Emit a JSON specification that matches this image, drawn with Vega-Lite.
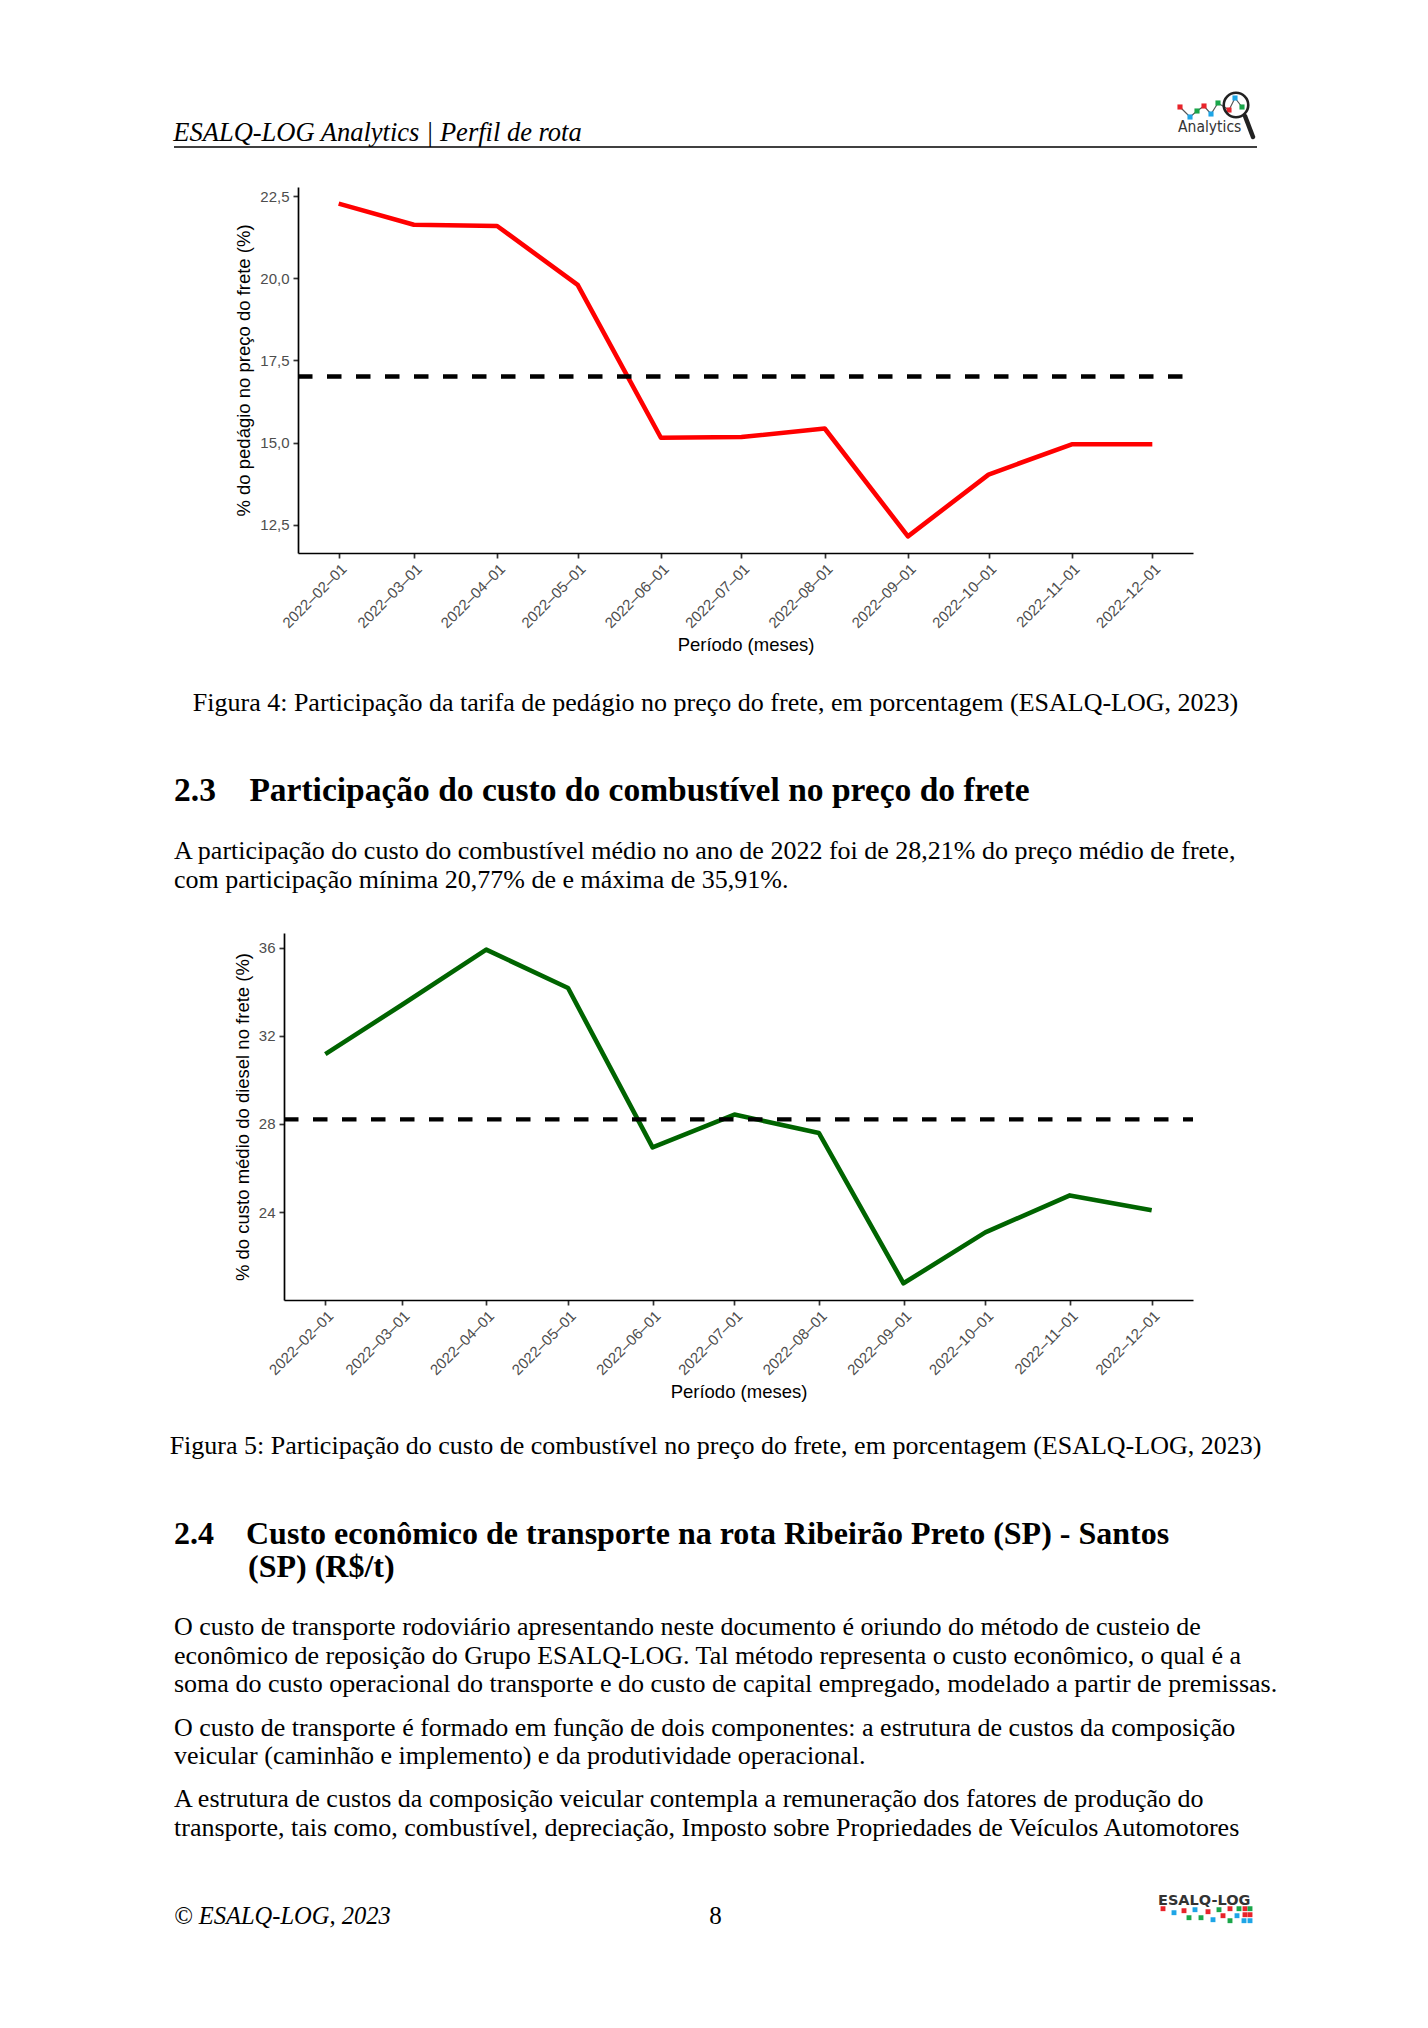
{
  "$schema": "https://vega.github.io/schema/vega-lite/v6.json",
  "background": "white",
  "padding": {"left": 169, "top": 0, "right": 10, "bottom": 10},
  "bounds": "flush",
  "spacing": 0,
  "config": {
    "view": {"stroke": null},
    "axis": {
      "labelFont": "Liberation Sans", "labelFontSize": 15, "labelColor": "#4d4d4d",
      "titleFont": "Liberation Sans", "titleFontSize": 18.5, "titleFontWeight": "normal", "titleColor": "black",
      "domainColor": "black", "domainWidth": 1.7, "tickColor": "#333333", "tickWidth": 1.7, "tickSize": 5,
      "grid": false, "labelPadding": 4
    },
    "axisX": {"labelAngle": -45, "labelAlign": "right", "labelBaseline": "top", "labelPadding": 3, "titlePadding": 5, "labelOverlap": false, "labelFlush": false},
    "axisY": {"titlePadding": 6},
    "title": {"font": "Liberation Serif", "fontSize": 26, "fontWeight": "normal", "color": "black", "limit": 2000, "orient": "bottom", "offset": 0, "anchor": "start"}
  },
  "datasets": {
    "pedagio": [
      {"mes": "2022-02-01", "v": 22.27}, {"mes": "2022-03-01", "v": 21.63}, {"mes": "2022-04-01", "v": 21.59},
      {"mes": "2022-05-01", "v": 19.80}, {"mes": "2022-06-01", "v": 15.15}, {"mes": "2022-07-01", "v": 15.17},
      {"mes": "2022-08-01", "v": 15.43}, {"mes": "2022-09-01", "v": 12.15}, {"mes": "2022-10-01", "v": 14.03},
      {"mes": "2022-11-01", "v": 14.95}, {"mes": "2022-12-01", "v": 14.95}
    ],
    "diesel": [
      {"mes": "2022-02-01", "v": 31.17}, {"mes": "2022-03-01", "v": 33.40}, {"mes": "2022-04-01", "v": 35.91},
      {"mes": "2022-05-01", "v": 34.17}, {"mes": "2022-06-01", "v": 26.94}, {"mes": "2022-07-01", "v": 28.43},
      {"mes": "2022-08-01", "v": 27.59}, {"mes": "2022-09-01", "v": 20.77}, {"mes": "2022-10-01", "v": 23.08},
      {"mes": "2022-11-01", "v": 24.76}, {"mes": "2022-12-01", "v": 24.09}
    ],
    "analytics": [
      {"x": 100.6, "y": 4.0, "c": "r"}, {"x": 101.6, "y": 3.0, "c": "b"}, {"x": 102.3, "y": 3.6, "c": "g"},
      {"x": 103.0, "y": 4.1, "c": "r"}, {"x": 103.7, "y": 3.3, "c": "b"}, {"x": 104.4, "y": 4.4, "c": "g"},
      {"x": 105.5, "y": 3.7, "c": "r"}, {"x": 106.1, "y": 4.9, "c": "b"}, {"x": 106.8, "y": 4.0, "c": "g"}
    ],
    "esalq": [
      {"x": 98.9, "y": 2.6, "c": "r"}, {"x": 100.0, "y": 2.2, "c": "b"}, {"x": 101.0, "y": 2.4, "c": "r"},
      {"x": 102.1, "y": 2.5, "c": "b"}, {"x": 101.5, "y": 1.7, "c": "g"}, {"x": 102.7, "y": 1.7, "c": "g"},
      {"x": 103.4, "y": 2.3, "c": "r"}, {"x": 103.9, "y": 1.5, "c": "b"}, {"x": 104.5, "y": 2.5, "c": "g"},
      {"x": 104.9, "y": 1.9, "c": "r"}, {"x": 105.6, "y": 2.6, "c": "r"}, {"x": 105.6, "y": 1.4, "c": "g"},
      {"x": 106.3, "y": 1.9, "c": "b"}, {"x": 106.5, "y": 2.6, "c": "g"}, {"x": 107.1, "y": 2.6, "c": "r"},
      {"x": 107.6, "y": 2.6, "c": "g"}, {"x": 107.1, "y": 2.0, "c": "r"}, {"x": 107.6, "y": 2.0, "c": "r"},
      {"x": 107.0, "y": 1.4, "c": "b"}, {"x": 107.6, "y": 1.4, "c": "b"}
    ]
  },
  "vconcat": [
    {
      "width": 1083, "height": 147,
      "title": {"text": "ESALQ-LOG Analytics | Perfil de rota", "fontStyle": "italic", "fontSize": 26.5, "offset": -28},
      "layer": [
        {
          "data": {"values": [{}]},
          "mark": {"type": "rule", "color": "black", "strokeWidth": 1.4},
          "encoding": {"y": {"datum": 0, "type": "quantitative", "scale": {"domain": [0, 14.7], "nice": false, "zero": false}, "axis": null}}
        },
        {
          "data": {"name": "analytics"},
          "mark": {"type": "line", "color": "#555555", "strokeWidth": 1.2},
          "encoding": {
            "x": {"field": "x", "type": "quantitative", "scale": {"domain": [0, 108.3], "nice": false, "zero": false}, "axis": null},
            "y": {"field": "y", "type": "quantitative", "axis": null}
          }
        },
        {
          "data": {"name": "analytics"},
          "mark": {"type": "point", "shape": "square", "size": 26, "filled": true, "opacity": 1},
          "encoding": {
            "x": {"field": "x", "type": "quantitative"},
            "y": {"field": "y", "type": "quantitative"},
            "color": {"field": "c", "type": "nominal", "scale": {"domain": ["r", "b", "g"], "range": ["#e8232a", "#1ea5e6", "#1aa64a"]}, "legend": null}
          }
        },
        {
          "data": {"values": [{"x": 106.2, "y": 4.2}]},
          "mark": {"type": "point", "shape": "circle", "size": 600, "filled": false, "stroke": "#222222", "strokeWidth": 2.6, "opacity": 1},
          "encoding": {"x": {"field": "x", "type": "quantitative"}, "y": {"field": "y", "type": "quantitative"}}
        },
        {
          "data": {"values": [{"x": 107.1, "y": 3.1, "x2": 107.9, "y2": 1.0}]},
          "mark": {"type": "rule", "color": "#222222", "strokeWidth": 4.5, "strokeCap": "round"},
          "encoding": {
            "x": {"field": "x", "type": "quantitative"}, "y": {"field": "y", "type": "quantitative"},
            "x2": {"field": "x2"}, "y2": {"field": "y2"}
          }
        },
        {
          "data": {"values": [{"x": 100.4, "y": 1.5, "t": "Analytics"}]},
          "mark": {"type": "text", "font": "'Liberation Sans Narrow', 'DejaVu Sans Condensed', 'Liberation Sans'", "fontSize": 15.5, "color": "#333333", "align": "left", "baseline": "alphabetic"},
          "encoding": {"x": {"field": "x", "type": "quantitative"}, "y": {"field": "y", "type": "quantitative"}, "text": {"field": "t"}}
        }
      ]
    },
    {"width": 1083, "height": 40, "data": {"values": []}, "mark": "point", "encoding": {}},
    {
      "width": 1019, "height": 366,
      "data": {"name": "pedagio"},
      "layer": [
        {
          "mark": {"type": "line", "color": "#ff0000", "strokeWidth": 4.6, "strokeJoin": "round"},
          "encoding": {
            "x": {
              "field": "mes", "type": "temporal",
              "scale": {"type": "utc", "range": [124, 1019], "domain": [{"year": 2022, "month": 1, "date": 16, "hours": 20, "minutes": 24, "utc": true}, {"year": 2022, "month": 12, "date": 16, "hours": 3, "minutes": 36, "utc": true}]},
              "axis": {
                "title": "Período (meses)",
                "values": [
                  {"year": 2022, "month": 2, "date": 1, "utc": true}, {"year": 2022, "month": 3, "date": 1, "utc": true},
                  {"year": 2022, "month": 4, "date": 1, "utc": true}, {"year": 2022, "month": 5, "date": 1, "utc": true},
                  {"year": 2022, "month": 6, "date": 1, "utc": true}, {"year": 2022, "month": 7, "date": 1, "utc": true},
                  {"year": 2022, "month": 8, "date": 1, "utc": true}, {"year": 2022, "month": 9, "date": 1, "utc": true},
                  {"year": 2022, "month": 10, "date": 1, "utc": true}, {"year": 2022, "month": 11, "date": 1, "utc": true},
                  {"year": 2022, "month": 12, "date": 1, "utc": true}
                ],
                "labelExpr": "utcFormat(datum.value, '%Y–%m–%d')"
              }
            },
            "y": {
              "field": "v", "type": "quantitative",
              "scale": {"domain": [11.644, 22.776], "zero": false, "nice": false},
              "axis": {"title": "% do pedágio no preço do frete (%)", "offset": -124, "values": [12.5, 15, 17.5, 20, 22.5], "labelExpr": "replace(format(datum.value, '.1f'), '.', ',')"}
            }
          }
        },
        {
          "mark": {"type": "rule", "color": "black", "strokeWidth": 4.4, "strokeDash": [14.5, 14.5]},
          "encoding": {
            "x": {"datum": {"year": 2022, "month": 1, "date": 16, "hours": 20, "minutes": 24, "utc": true}, "type": "temporal"},
            "x2": {"datum": {"year": 2022, "month": 12, "date": 16, "hours": 3, "minutes": 36, "utc": true}},
            "y": {"aggregate": "mean", "field": "v", "type": "quantitative"}
          }
        }
      ]
    },
    {"width": 1083, "height": 133.4, "data": {"values": []}, "mark": "point", "encoding": {},
     "title": {"text": "Figura 4: Participação da tarifa de pedágio no preço do frete, em porcentagem (ESALQ-LOG, 2023)", "anchor": "middle"}},
    {"width": 1083, "height": 84, "data": {"values": []}, "mark": "point", "encoding": {},
     "title": {"text": "2.3\u00a0\u00a0\u00a0\u00a0Participação do custo do combustível no preço do frete", "fontWeight": "bold", "fontSize": 33.5}},
    {"width": 1083, "height": 63.1, "data": {"values": []}, "mark": "point", "encoding": {},
     "title": {"text": ["A participação do custo do combustível médio no ano de 2022 foi de 28,21% do preço médio de frete,", "com participação mínima 20,77% de e máxima de 35,91%."], "lineHeight": 28.5}},
    {"width": 1083, "height": 97.5, "data": {"values": []}, "mark": "point", "encoding": {}},
    {
      "width": 1019, "height": 367,
      "data": {"name": "diesel"},
      "layer": [
        {
          "mark": {"type": "line", "color": "#006400", "strokeWidth": 4.6, "strokeJoin": "round"},
          "encoding": {
            "x": {
              "field": "mes", "type": "temporal",
              "scale": {"type": "utc", "range": [110, 1019], "domain": [{"year": 2022, "month": 1, "date": 16, "hours": 20, "minutes": 24, "utc": true}, {"year": 2022, "month": 12, "date": 16, "hours": 3, "minutes": 36, "utc": true}]},
              "axis": {
                "title": "Período (meses)",
                "values": [
                  {"year": 2022, "month": 2, "date": 1, "utc": true}, {"year": 2022, "month": 3, "date": 1, "utc": true},
                  {"year": 2022, "month": 4, "date": 1, "utc": true}, {"year": 2022, "month": 5, "date": 1, "utc": true},
                  {"year": 2022, "month": 6, "date": 1, "utc": true}, {"year": 2022, "month": 7, "date": 1, "utc": true},
                  {"year": 2022, "month": 8, "date": 1, "utc": true}, {"year": 2022, "month": 9, "date": 1, "utc": true},
                  {"year": 2022, "month": 10, "date": 1, "utc": true}, {"year": 2022, "month": 11, "date": 1, "utc": true},
                  {"year": 2022, "month": 12, "date": 1, "utc": true}
                ],
                "labelExpr": "utcFormat(datum.value, '%Y–%m–%d')"
              }
            },
            "y": {
              "field": "v", "type": "quantitative",
              "scale": {"domain": [20.013, 36.667], "zero": false, "nice": false},
              "axis": {"title": "% do custo médio do diesel no frete (%)", "offset": -110, "values": [24, 28, 32, 36], "format": "d"}
            }
          }
        },
        {
          "mark": {"type": "rule", "color": "black", "strokeWidth": 4.4, "strokeDash": [14.5, 14.5]},
          "encoding": {
            "x": {"datum": {"year": 2022, "month": 1, "date": 16, "hours": 20, "minutes": 24, "utc": true}, "type": "temporal"},
            "x2": {"datum": {"year": 2022, "month": 12, "date": 16, "hours": 3, "minutes": 36, "utc": true}},
            "y": {"aggregate": "mean", "field": "v", "type": "quantitative"}
          }
        }
      ]
    },
    {"width": 1083, "height": 128.9, "data": {"values": []}, "mark": "point", "encoding": {},
     "title": {"text": "Figura 5: Participação do custo de combustível no preço do frete, em porcentagem (ESALQ-LOG, 2023)", "anchor": "middle"}},
    {"width": 1083, "height": 86, "data": {"values": []}, "mark": "point", "encoding": {},
     "title": {"text": "2.4\u00a0\u00a0\u00a0\u00a0Custo econômico de transporte na rota Ribeirão Preto (SP) - Santos", "fontWeight": "bold", "fontSize": 32}},
    {"width": 1083, "height": 32.5, "data": {"values": []}, "mark": "point", "encoding": {},
     "title": {"text": "(SP) (R$/t)", "fontWeight": "bold", "fontSize": 32, "dx": 74}},
    {"width": 1083, "height": 62.2, "data": {"values": []}, "mark": "point", "encoding": {},
     "title": {"text": ["O custo de transporte rodoviário apresentando neste documento é oriundo do método de custeio de", "econômico de reposição do Grupo ESALQ-LOG. Tal método representa o custo econômico, o qual é a", "soma do custo operacional do transporte e do custo de capital empregado, modelado a partir de premissas."], "lineHeight": 28.5}},
    {"width": 1083, "height": 99.6, "data": {"values": []}, "mark": "point", "encoding": {},
     "title": {"text": ["O custo de transporte é formado em função de dois componentes: a estrutura de custos da composição", "veicular (caminhão e implemento) e da produtividade operacional."], "lineHeight": 28.5}},
    {"width": 1083, "height": 71.1, "data": {"values": []}, "mark": "point", "encoding": {},
     "title": {"text": ["A estrutura de custos da composição veicular contempla a remuneração dos fatores de produção do", "transporte, tais como, combustível, depreciação, Imposto sobre Propriedades de Veículos Automotores"], "lineHeight": 28.5}},
    {
      "width": 1083, "height": 151.7,
      "title": {"text": "© ESALQ-LOG, 2023", "fontStyle": "italic", "fontSize": 24.5, "offset": -29.3},
      "layer": [
        {
          "data": {"values": [{"x": 54.15, "y": 1.03, "t": "8"}]},
          "mark": {"type": "text", "font": "Liberation Serif", "fontSize": 25, "color": "black", "align": "center", "baseline": "alphabetic"},
          "encoding": {
            "x": {"field": "x", "type": "quantitative", "scale": {"domain": [0, 108.3], "nice": false, "zero": false}, "axis": null},
            "y": {"field": "y", "type": "quantitative", "scale": {"domain": [0, 15.17], "nice": false, "zero": false}, "axis": null},
            "text": {"field": "t"}
          }
        },
        {
          "data": {"values": [{"x": 98.4, "y": 3.0, "t": "ESALQ-LOG"}]},
          "mark": {"type": "text", "font": "DejaVu Sans", "fontWeight": "bold", "fontSize": 14.5, "color": "#333333", "align": "left", "baseline": "alphabetic"},
          "encoding": {"x": {"field": "x", "type": "quantitative"}, "y": {"field": "y", "type": "quantitative"}, "text": {"field": "t"}}
        },
        {
          "data": {"name": "esalq"},
          "mark": {"type": "point", "shape": "square", "size": 24, "filled": true, "opacity": 1},
          "encoding": {
            "x": {"field": "x", "type": "quantitative"},
            "y": {"field": "y", "type": "quantitative"},
            "color": {"field": "c", "type": "nominal", "scale": {"domain": ["r", "b", "g"], "range": ["#e8232a", "#1ea5e6", "#1aa64a"]}, "legend": null}
          }
        }
      ]
    }
  ]
}
